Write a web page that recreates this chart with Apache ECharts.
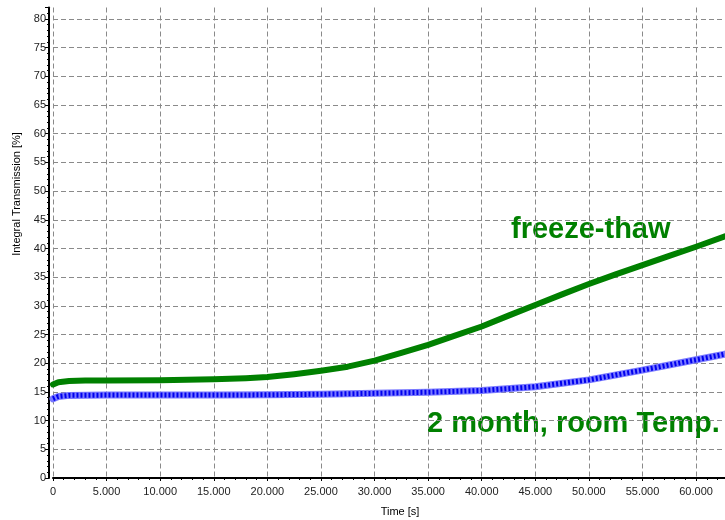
<!DOCTYPE html>
<html>
<head>
<meta charset="utf-8">
<script src="https://cdn.jsdelivr.net/npm/echarts@6/dist/echarts.min.js"></script>
<style>
html,body{margin:0;padding:0;background:#fff;}
#chart{width:725px;height:520px;}
</style>
</head>
<body>
<div id="chart"></div>
<script>
// Time [s] sample points
const timeFreeze = [0, 500, 1500, 3000, 5000, 10000, 15000, 18000, 20000, 22500, 25000, 27500, 30000, 32500, 35000, 37500, 40000, 42500, 45000, 47500, 50000, 52500, 55000, 57500, 60000, 62700];
const freezeThaw = [16.3, 16.7, 16.9, 17.0, 17.0, 17.05, 17.2, 17.4, 17.6, 18.1, 18.7, 19.4, 20.45, 21.8, 23.2, 24.8, 26.4, 28.3, 30.15, 32.0, 33.8, 35.5, 37.1, 38.7, 40.3, 42.1];
const timeRoom = [0, 500, 1500, 5000, 10000, 15000, 20000, 25000, 30000, 35000, 40000, 45000, 50000, 55000, 60000, 62700];
const roomTemp = [13.8, 14.2, 14.4, 14.45, 14.45, 14.45, 14.5, 14.6, 14.75, 14.95, 15.25, 15.9, 17.1, 18.8, 20.6, 21.6];

const seriesNames = ['freeze-thaw', '2 month, room Temp.'];
const xAxisTitle = 'Time [s]';
const yAxisTitle = 'Integral Transmission [%]';

const chart = echarts.init(document.getElementById('chart'), null, {renderer: 'canvas'});
const labelFont = 'Liberation Sans, Arial, sans-serif';
const gridLine = {show: true, lineStyle: {color: '#8a8a8a', type: [5, 3], width: 1}, showMaxLine: false};
const roomData = timeRoom.map((t, i) => [t, roomTemp[i]]);

chart.setOption({
  animation: false,
  backgroundColor: '#ffffff',
  grid: {left: 53, right: 0, top: 7.5, bottom: 42, containLabel: false},
  xAxis: {
    type: 'value', min: 0, max: 62700, interval: 5000,
    axisLine: {show: true, onZero: false, lineStyle: {color: '#000', width: 2}},
    axisTick: {show: true, length: 3, lineStyle: {color: '#000'}},
    minorTick: {show: true, splitNumber: 5, length: 2, lineStyle: {color: '#000'}},
    splitLine: gridLine,
    axisLabel: {
      showMaxLabel: false, margin: 8, color: '#222', fontSize: 11, fontFamily: labelFont,
      formatter: v => v === 0 ? '0' : String(v).replace(/\B(?=(\d{3})+(?!\d))/g, '.')
    }
  },
  yAxis: {
    type: 'value', min: 0, max: 82, interval: 5, offset: 4,
    axisLine: {show: true, onZero: false, lineStyle: {color: '#000', width: 2}},
    axisTick: {show: true, length: 4, lineStyle: {color: '#000'}},
    minorTick: {show: true, splitNumber: 5, length: 2, lineStyle: {color: '#000'}},
    splitLine: gridLine,
    axisLabel: {showMaxLabel: false, margin: 3, color: '#222', fontSize: 11, fontFamily: labelFont}
  },
  series: [
    {
      name: seriesNames[1], type: 'line', showSymbol: false, smooth: false,
      data: roomData,
      lineStyle: {color: '#7a7aff', width: 7, join: 'round', cap: 'round'}, z: 2
    },
    {
      name: seriesNames[1] + ' texture', type: 'line', showSymbol: false, smooth: false, silent: true,
      data: roomData,
      lineStyle: {color: '#0000ee', width: 5, type: [2, 2]}, z: 2
    },
    {
      name: seriesNames[0], type: 'line', showSymbol: false, smooth: false,
      data: timeFreeze.map((t, i) => [t, freezeThaw[i]]),
      lineStyle: {color: '#008000', width: 6, join: 'round', cap: 'round'}, z: 3
    }
  ],
  graphic: [
    {type: 'text', left: 511, top: 215, style: {text: seriesNames[0], fill: '#008000', font: 'bold 29px Liberation Sans, Arial, sans-serif'}},
    {type: 'text', left: 427, top: 409, style: {text: seriesNames[1], fill: '#008000', font: 'bold 29px Liberation Sans, Arial, sans-serif'}},
    {type: 'text', x: 400, y: 512, style: {text: xAxisTitle, fill: '#000', font: '11px Liberation Sans, Arial, sans-serif', align: 'center', verticalAlign: 'middle'}},
    {type: 'text', x: 17, y: 194, rotation: Math.PI / 2, style: {text: yAxisTitle, fill: '#000', font: '11px Liberation Sans, Arial, sans-serif', align: 'center', verticalAlign: 'middle'}}
  ]
});
</script>
</body>
</html>
